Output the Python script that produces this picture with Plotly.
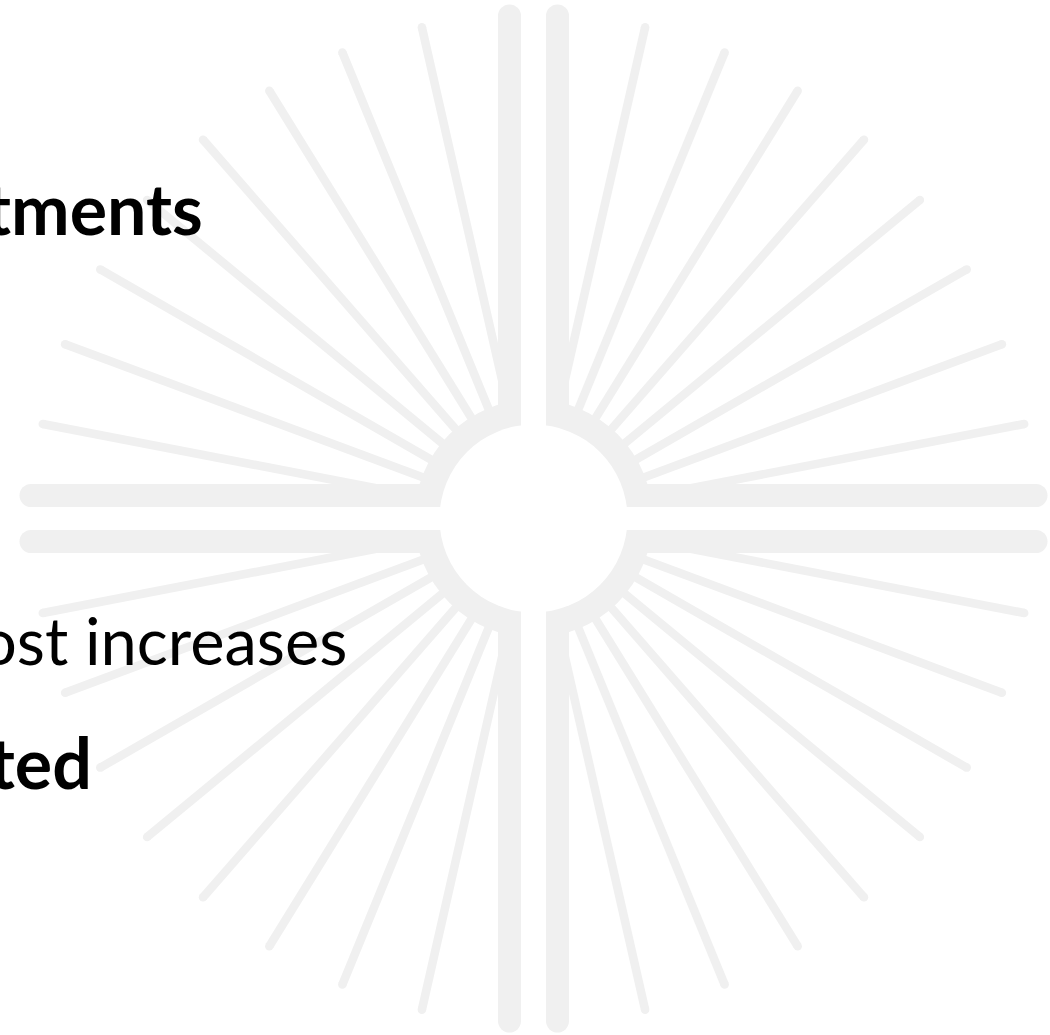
import numpy as np
import plotly.graph_objects as go

# ---------------- data ----------------
# angle of each ray in a quadrant, measured from the vertical axis (degrees)
ray_angle_from_vertical = [12.8, 22.3, 31.7, 41.1, 50.5, 60.1, 69.6, 79.1]
# distance from the centre to the tip of each ray (px)
ray_reach = [508, 508, 507, 507, 505, 504, 504, 504]
# distance from the centre to the end of each of the four long bars (px)
bar_reach = 514
# the visible (cut-off) slide text
labels = ["tments", "ost increases", "ted"]
label_bold = [True, False, True]

# ---------------- layout / style ----------------
W, H = 1050, 1035
CX, CY = 533.5, 518.5
GREY = "#F0F0F0"
RAY_W = 8.5
BAR_W = 23
GAP_H = 23   # white gap between the two horizontal bars
GAP_V = 25   # white gap between the two vertical bars
R_HOLE = 94  # white centre circle
R_RING = 119 # solid grey ring around it

label_right = [205, 349, 94]
label_baseline = [232, 663, 786]
label_size = [70, 65, 70]

fig = go.Figure()

# rays, mirrored into the four quadrants
rx, ry = [], []
for sx in (1, -1):
    for sy in (1, -1):
        for a, r in zip(ray_angle_from_vertical, ray_reach):
            t = np.radians(a)
            end = r - RAY_W / 2
            rx += [CX, CX + sx * end * np.sin(t), None]
            ry += [CY, CY - sy * end * np.cos(t), None]
fig.add_trace(go.Scatter(x=rx, y=ry, mode="lines+markers",
                         line=dict(color=GREY, width=RAY_W),
                         marker=dict(color=GREY, size=RAY_W),
                         hoverinfo="skip", showlegend=False))

# the four long bars
bx, by = [], []
half = bar_reach - BAR_W / 2
for s in (1, -1):
    yb = CY + s * (GAP_H / 2 + BAR_W / 2)
    bx += [CX - half, CX + half, None]
    by += [yb, yb, None]
    xb = CX + s * (GAP_V / 2 + BAR_W / 2)
    bx += [xb, xb, None]
    by += [CY - half, CY + half, None]
fig.add_trace(go.Scatter(x=bx, y=by, mode="lines+markers",
                         line=dict(color=GREY, width=BAR_W),
                         marker=dict(color=GREY, size=BAR_W),
                         hoverinfo="skip", showlegend=False))

shapes = [
    dict(type="circle", xref="x", yref="y",
         x0=CX - R_RING, x1=CX + R_RING, y0=CY - R_RING, y1=CY + R_RING,
         fillcolor=GREY, line=dict(width=0), layer="above"),
    dict(type="rect", xref="x", yref="y",
         x0=CX - R_RING - 6, x1=CX + R_RING + 6, y0=CY - GAP_H / 2, y1=CY + GAP_H / 2,
         fillcolor="white", line=dict(width=0), layer="above"),
    dict(type="rect", xref="x", yref="y",
         x0=CX - GAP_V / 2, x1=CX + GAP_V / 2, y0=CY - R_RING - 6, y1=CY + R_RING + 6,
         fillcolor="white", line=dict(width=0), layer="above"),
    dict(type="circle", xref="x", yref="y",
         x0=CX - R_HOLE, x1=CX + R_HOLE, y0=CY - R_HOLE, y1=CY + R_HOLE,
         fillcolor="white", line=dict(width=0), layer="above"),
]

annotations = []
for txt, b, xr, base, sz in zip(labels, label_bold, label_right, label_baseline, label_size):
    annotations.append(dict(
        text=f"<b>{txt}</b>" if b else txt,
        x=xr, y=base - 0.35 * sz, xref="x", yref="y",
        xanchor="right", yanchor="middle", showarrow=False,
        font=dict(family="Lato", size=sz, color="black"),
    ))

fig.update_layout(
    width=W, height=H,
    margin=dict(l=0, r=0, t=0, b=0),
    paper_bgcolor="white", plot_bgcolor="white",
    xaxis=dict(range=[0, W], visible=False, fixedrange=True),
    yaxis=dict(range=[H, 0], visible=False, fixedrange=True),
    shapes=shapes, annotations=annotations,
    showlegend=False,
)

fig.write_html(
    "out.html",
    config={"displayModeBar": False},
    post_script="document.body.style.margin='0';document.body.style.overflow='hidden';",
)
